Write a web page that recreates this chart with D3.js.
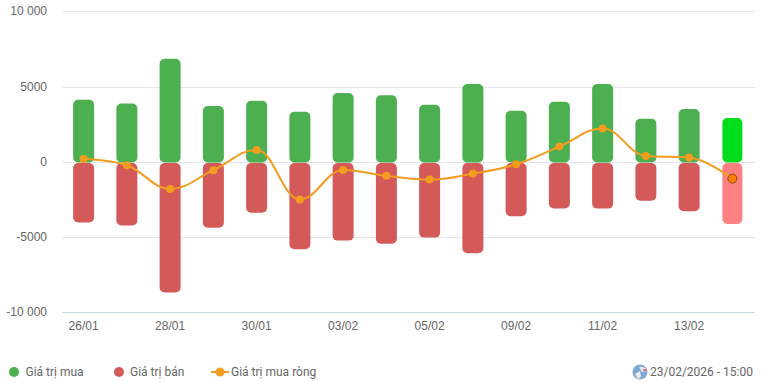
<!DOCTYPE html>
<html>
<head>
<meta charset="utf-8">
<script src="https://cdn.jsdelivr.net/npm/d3@7"></script>
<style>
  html, body { margin: 0; padding: 0; background: #fff; }
  svg { display: block; font-family: Roboto, sans-serif; }
</style>
</head>
<body>
<svg id="chart" width="761" height="382"></svg>
<script>
const MARGINS = { left: 62, right: 7, top: 11.4, bottom: 70.2 };

const dates = ["26/01", "27/01", "28/01", "29/01", "30/01", "02/02", "03/02", "04/02",
  "05/02", "06/02", "09/02", "10/02", "11/02", "12/02", "13/02", "23/02"];
const tickDates = ["26/01", "28/01", "30/01", "03/02", "05/02", "09/02", "11/02", "13/02"];
const buyValues = [4120, 3860, 6850, 3700, 4050, 3320, 4560, 4420, 3780, 5170, 3380, 3980, 5160, 2850, 3500, 2900];
const sellValues = [-4050, -4260, -8720, -4400, -3400, -5840, -5260, -5470, -5060, -6100, -3640, -3120, -3130, -2600, -3300, -4150];
const netValues = [170, -240, -1820, -570, 780, -2520, -560, -950, -1200, -800, -180, 1000, 2200, 370, 270, -1130];
const yTicks = [10000, 5000, 0, -5000, -10000];

const width = 761;
const height = 382;
const svg = d3.select("#chart");

const xScale = d3.scaleBand()
  .domain(dates)
  .range([MARGINS.left, width - MARGINS.right]);
const yScale = d3.scaleLinear()
  .domain([-10000, 10000])
  .range([height - MARGINS.bottom, MARGINS.top]);

const cx = (d) => xScale(d) + xScale.bandwidth() / 2;
const BAR_WIDTH = 21;
const formatTick = (v) => (Math.abs(v) >= 10000
  ? `${v < 0 ? "-" : ""}${Math.abs(v) / 1000} 000`
  : `${v}`);

// grid + y labels, grid lines snapped to whole pixels
const yAxis = d3.axisLeft(yScale)
  .offset(0)
  .tickValues(yTicks)
  .tickSize(-(width - MARGINS.left - 6))
  .tickPadding(15)
  .tickFormat(formatTick);
const yG = svg.append("g")
  .attr("transform", `translate(${MARGINS.left}, 0)`)
  .call(yAxis);
yG.select(".domain").remove();
yG.selectAll(".tick")
  .attr("transform", (d) => `translate(0, ${Math.round(yScale(d)) + 0.5})`);
yG.selectAll("line").attr("stroke", (d) => (d === -10000 ? "#ccd6eb" : "#e6e6e6"));
yG.selectAll("text").attr("font-size", 12).attr("fill", "#666666");

// x labels, every second day
const xAxis = d3.axisBottom(xScale)
  .tickValues(tickDates)
  .tickSize(0)
  .tickPadding(10);
const xG = svg.append("g")
  .attr("transform", `translate(0, ${height - MARGINS.bottom})`)
  .call(xAxis);
xG.select(".domain").remove();
xG.selectAll("text").attr("font-size", 12).attr("fill", "#666666");

// bars: rounded on all four corners, last session is highlighted
const lastDate = dates[dates.length - 1];
const barW = (d) => (d === lastDate ? BAR_WIDTH - 1 : BAR_WIDTH);

svg.append("g").selectAll("rect")
  .data(dates)
  .join("rect")
  .attr("x", (d) => cx(d) - barW(d) / 2)
  .attr("y", (d, i) => yScale(buyValues[i]))
  .attr("width", barW)
  .attr("height", (d, i) => yScale(0) - yScale(buyValues[i]) + 0.8)
  .attr("rx", 5)
  .attr("fill", (d) => (d === lastDate ? "#00dd1a" : "#4caf50"));

svg.append("g").selectAll("rect")
  .data(dates)
  .join("rect")
  .attr("x", (d) => cx(d) - barW(d) / 2)
  .attr("y", yScale(0) + 1.4)
  .attr("width", barW)
  .attr("height", (d, i) => yScale(sellValues[i]) - yScale(0) - 1.4)
  .attr("rx", 5)
  .attr("fill", (d) => (d === lastDate ? "#ff8083" : "#d45a5a"));

// same smoothing as a highcharts spline, no overshoot past the points
function splinePath(pts) {
  const p = d3.path();
  const smoothing = 1.5;
  const denom = smoothing + 1;
  const conts = pts.map(([x, y], i) => {
    if (i === 0 || i === pts.length - 1) return { lx: x, ly: y, rx: x, ry: y };
    const [x0, y0] = pts[i - 1];
    const [x1, y1] = pts[i + 1];
    const lx = (smoothing * x + x0) / denom;
    let ly = (smoothing * y + y0) / denom;
    const rx = (smoothing * x + x1) / denom;
    let ry = (smoothing * y + y1) / denom;
    const correction = ((ry - ly) * (rx - x)) / (rx - lx) + y - ry;
    ly += correction;
    ry += correction;
    if (ly > y0 && ly > y) {
      ly = Math.max(y0, y);
      ry = 2 * y - ly;
    } else if (ly < y0 && ly < y) {
      ly = Math.min(y0, y);
      ry = 2 * y - ly;
    }
    if (ry > y1 && ry > y) {
      ry = Math.max(y1, y);
      ly = 2 * y - ry;
    } else if (ry < y1 && ry < y) {
      ry = Math.min(y1, y);
      ly = 2 * y - ry;
    }
    return { lx, ly, rx, ry };
  });
  pts.forEach(([x, y], i) => {
    if (i === 0) p.moveTo(x, y);
    else p.bezierCurveTo(conts[i - 1].rx, conts[i - 1].ry, conts[i].lx, conts[i].ly, x, y);
  });
  return p.toString();
}

const linePts = dates.map((d, i) => [cx(d), yScale(netValues[i])]);
svg.append("path")
  .attr("d", splinePath(linePts))
  .attr("fill", "none")
  .attr("stroke", "#f39c1f")
  .attr("stroke-width", 2);

svg.append("g").selectAll("circle")
  .data(dates)
  .join("circle")
  .attr("cx", (d) => cx(d))
  .attr("cy", (d, i) => yScale(netValues[i]))
  .attr("r", (d) => (d === lastDate ? 4.5 : 4))
  .attr("fill", (d) => (d === lastDate ? "#ff7f00" : "#f39c1f"))
  .attr("stroke", (d) => (d === lastDate ? "#8a4a10" : "none"))
  .attr("stroke-width", 1);

// legend
const legendG = svg.append("g").attr("font-size", 12).attr("fill", "#666666");
const LEGEND_Y = 372;

legendG.append("circle").attr("cx", 14).attr("cy", LEGEND_Y).attr("r", 5).attr("fill", "#4caf50");
legendG.append("text").attr("x", 25.5).attr("y", LEGEND_Y + 4).text("Giá trị mua");
legendG.append("circle").attr("cx", 119).attr("cy", LEGEND_Y).attr("r", 5).attr("fill", "#d45a5a");
legendG.append("text").attr("x", 130).attr("y", LEGEND_Y + 4).text("Giá trị bán");
legendG.append("line")
  .attr("x1", 211).attr("x2", 229)
  .attr("y1", LEGEND_Y).attr("y2", LEGEND_Y)
  .attr("stroke", "#f39c1f").attr("stroke-width", 2);
legendG.append("circle").attr("cx", 220).attr("cy", LEGEND_Y).attr("r", 4.5).attr("fill", "#f39c1f");
legendG.append("text").attr("x", 231).attr("y", LEGEND_Y + 4).text("Giá trị mua ròng");

// timestamp with the small globe icon
const globe = svg.append("g").attr("transform", `translate(640, ${LEGEND_Y})`);
globe.append("circle").attr("r", 7.5).attr("fill", "#7fa9d1");
globe.append("path").attr("d", "M-1,-5 C3,-6 6,-4 7,-1 L2,0 Z").attr("fill", "#e8eef5");
globe.append("path").attr("d", "M-5,2 L0,-1 L1,5 L-2,7 Z").attr("fill", "#e8eef5");
globe.append("path").attr("d", "M3,-3 L7,-3 L7,-1 L3,-1 Z").attr("fill", "#d9797a");
svg.append("text")
  .attr("x", 753)
  .attr("y", LEGEND_Y + 4)
  .attr("text-anchor", "end")
  .attr("font-size", 12)
  .attr("fill", "#666666")
  .text("23/02/2026 - 15:00");
</script>
</body>
</html>
